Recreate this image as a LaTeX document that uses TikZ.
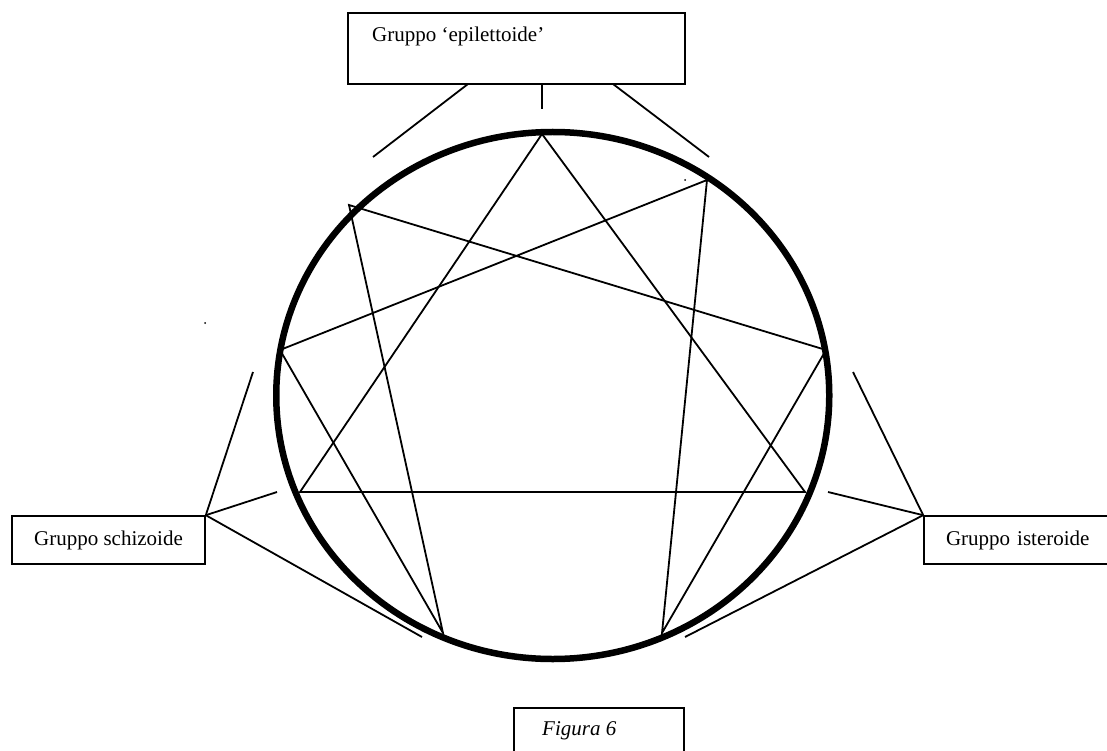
\documentclass[tikz,border=0pt]{standalone}
\usepackage{fontspec}
\setmainfont{Liberation Serif}
\begin{document}
\begin{tikzpicture}[x=1pt,y=-1pt,
  thin line/.style={line width=1.8pt,black},
  box/.style={draw,line width=1.6pt,rectangle,inner sep=0pt},
  lbl/.style={font=\fontsize{21}{25}\selectfont,inner sep=0pt},
  dotm/.style={circle,fill=black,inner sep=0pt,minimum size=2pt}]
\fill[white] (0,0) rectangle (1107,751);
\useasboundingbox (0,0) rectangle (1107,751);
% circle
\draw[line width=6.5pt] (552.75,395.5) ellipse [x radius=276.5, y radius=263.5];
% vertices
\coordinate (p9) at (542,134);
\coordinate (p1) at (707,180);
\coordinate (p2) at (826,350);
\coordinate (p3) at (805,492);
\coordinate (p4) at (662,633);
\coordinate (p5) at (443,633);
\coordinate (p6) at (300,492);
\coordinate (p7) at (280,350);
\coordinate (p8) at (349,205);
% triangle
\draw[thin line,line join=miter] (p9) -- (p6) -- (p3) -- cycle;
% hexad
\draw[thin line,line join=miter] (p1) -- (p4) -- (p2) -- (p8) -- (p5) -- (p7) -- cycle;
% stray dots
\node[dotm] (d1) at (685,180) {};
\node[dotm] (d2) at (205,323) {};
% top box
\node[box,minimum width=337pt,minimum height=71pt] (tb) at (516.5,48.3) {};
\node[lbl,anchor=base west] (tbt) at (372,42) {Gruppo ‘epilettoide’};
\coordinate (ta) at (468,84);
\coordinate (tbm) at (542,84);
\coordinate (tc) at (613,84);
\coordinate (te1) at (373,157);
\coordinate (te2) at (542,109);
\coordinate (te3) at (709,157);
\draw[thin line] (ta) -- (te1);
\draw[thin line] (tbm) -- (te2);
\draw[thin line] (tc) -- (te3);
% left box
\node[box,lbl,minimum width=193pt,minimum height=48pt] (lb) at (108.5,540) {Gruppo schizoide};
\coordinate (le1) at (253,372);
\coordinate (le2) at (277,492);
\coordinate (le3) at (422,637);
\draw[thin line] (lb.north east) -- (le1);
\draw[thin line] (lb.north east) -- (le2);
\draw[thin line] (lb.north east) -- (le3);
% right box
\node[box,lbl,minimum width=190pt,minimum height=48pt,text width=190pt,align=left,inner xsep=0pt] (rb) at (1019,540) {\hspace*{22pt}Gruppo isteroide};
\coordinate (re1) at (853,372);
\coordinate (re2) at (828,492);
\coordinate (re3) at (685,637);
\draw[thin line] (rb.north west) -- (re1);
\draw[thin line] (rb.north west) -- (re2);
\draw[thin line] (rb.north west) -- (re3);
% figure box
\node[box,minimum width=170pt,minimum height=60pt] (fb) at (599,738) {};
\node[lbl,anchor=base west,font=\fontsize{21}{25}\selectfont\itshape] (fbt) at (542,735) {Figura 6};
\end{tikzpicture}
\end{document}
